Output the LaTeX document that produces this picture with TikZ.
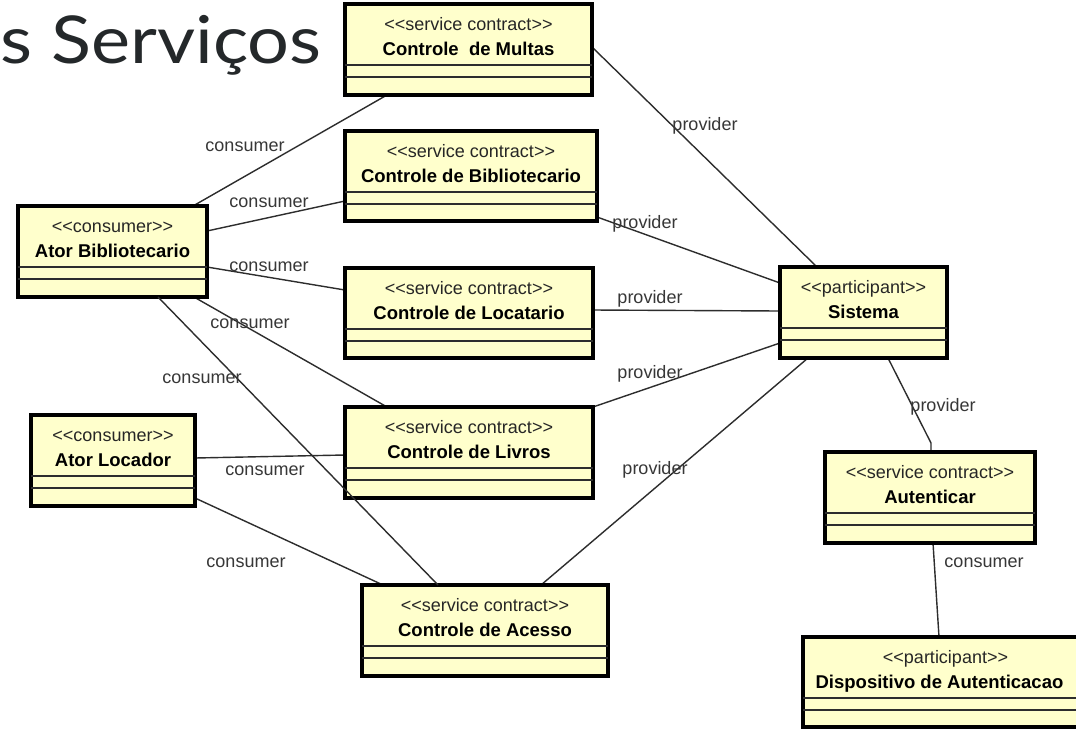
\documentclass[tikz,border=0pt]{standalone}
\usepackage{fontspec}
\setmainfont{Liberation Sans}
\newfontfamily\titlefont{Lato}[FakeStretch=1.12]
\usetikzlibrary{backgrounds}
\definecolor{umlfill}{RGB}{255,255,204}
\definecolor{umlline}{RGB}{45,45,45}
\definecolor{lblcol}{RGB}{55,55,55}
\definecolor{titlecol}{RGB}{36,40,42}
\tikzset{
  umlbox/.style={draw=black, line width=4pt, fill=umlfill, rectangle, inner sep=0pt, outer sep=0pt},
  stereo/.style={inner sep=0pt, anchor=base, text=black!85, font=\fontsize{18}{20}\selectfont},
  umlname/.style={inner sep=0pt, anchor=base, text=black, font=\fontsize{18.5}{21}\selectfont\bfseries},
  comp/.style={draw=umlline, line width=1.6pt},
  conn/.style={draw=umlline, line width=1.4pt},
  lbl/.style={inner sep=0pt, text=lblcol, font=\fontsize{18}{20}\selectfont},
}
\newcommand\umlbox[7]{%
  \node[umlbox, minimum width=#4pt, minimum height=#5pt, anchor=north west] (#1) at (#2,#3) {};
  \node[stereo] (#1-s) at ([yshift=-26pt]#1.north) {<{}<#6>{}>};
  \node[umlname] (#1-n) at ([yshift=-51pt]#1.north) {#7};
  \draw[comp] ([yshift=-61pt]#1.north west) -- ([yshift=-61pt]#1.north east);
  \draw[comp] ([yshift=-73pt]#1.north west) -- ([yshift=-73pt]#1.north east);
}
\begin{document}
\begin{tikzpicture}[x=1pt, y=-1pt]
\useasboundingbox (0,0) rectangle (1076,729);
\clip (0,0) rectangle (1076,729);

\node[inner sep=0pt, anchor=base east, text=titlecol, font=\titlefont\fontsize{66}{70}\selectfont] (title) at (322,63) {s Serviços};

\umlbox{multas}{345}{4}{247}{91}{service contract}{Controle\ \ de Multas}
\umlbox{bibl}{345}{131}{252}{90}{service contract}{Controle de Bibliotecario}
\umlbox{atorb}{18}{206}{189}{91}{consumer}{Ator Bibliotecario}
\umlbox{locat}{345}{268}{248}{90}{service contract}{Controle de Locatario}
\umlbox{sistema}{780}{267}{167}{91}{participant}{Sistema}
\umlbox{livros}{345}{407}{248}{91}{service contract}{Controle de Livros}
\umlbox{atorl}{31}{415}{164}{91}{consumer}{Ator Locador}
\umlbox{autent}{825}{452}{210}{91}{service contract}{Autenticar}
\umlbox{acesso}{362}{585}{246}{91}{service contract}{Controle de Acesso}
\umlbox{disp}{803}{637}{285}{90}{participant}{\hspace*{-12pt}Dispositivo de Autenticacao}

\coordinate (bend) at ([xshift=106pt, yshift=9pt]autent.north west);

\begin{scope}[on background layer]
  \fill[white] (0,0) rectangle (1076,729);
  \draw[conn] ([xshift=175pt]atorb.north west) -- ([xshift=42pt]multas.south west);
  \draw[conn] ([yshift=-25pt]atorb.north east) -- ([yshift=-70pt]bibl.north west);
  \draw[conn] ([yshift=-61pt]atorb.north east) -- ([yshift=-22pt]locat.north west);
  \draw[conn] ([xshift=176pt]atorb.south west) -- ([xshift=42pt]livros.north west);
  \draw[conn] ([yshift=-43pt]atorl.north east) -- ([yshift=-48pt]livros.north west);
  \draw[conn] ([yshift=-83pt]atorl.north east) -- ([xshift=21pt]acesso.north west);
  \draw[conn] ([yshift=-43pt]multas.north east) -- ([xshift=37pt]sistema.north west);
  \draw[conn] ([yshift=-86pt]bibl.north east) -- ([yshift=-16pt]sistema.north west);
  \draw[conn] ([yshift=-42pt]locat.north east) -- ([yshift=-44pt]sistema.north west);
  \draw[conn] (livros.north east) -- ([yshift=-76pt]sistema.north west);
  \draw[conn] ([xshift=179pt]acesso.north west) -- ([xshift=28pt]sistema.south west);
  \draw[conn] ([xshift=108pt]sistema.south west) -- (bend) -- ([xshift=106pt]autent.north west);
  \draw[conn] ([xshift=108pt]autent.south west) -- ([xshift=136pt]disp.north west);
\end{scope}
\draw[conn] ([xshift=140pt]atorb.south west) -- ([xshift=76pt]acesso.north west);

\node[lbl] (l1) at (245,147) {consumer};
\node[lbl] (l2) at (269,203) {consumer};
\node[lbl] (l3) at (269,267) {consumer};
\node[lbl] (l4) at (250,324) {consumer};
\node[lbl] (l5) at (202,379) {consumer};
\node[lbl] (l6) at (265,471) {consumer};
\node[lbl] (l7) at (246,563) {consumer};
\node[lbl] (p1) at (705,126) {provider};
\node[lbl] (p2) at (645,224) {provider};
\node[lbl] (p3) at (650,299) {provider};
\node[lbl] (p4) at (650,374) {provider};
\node[lbl] (p5) at (655,470) {provider};
\node[lbl] (p6) at (943,407) {provider};
\node[lbl] (c8) at (984,563) {consumer};
\end{tikzpicture}
\end{document}
